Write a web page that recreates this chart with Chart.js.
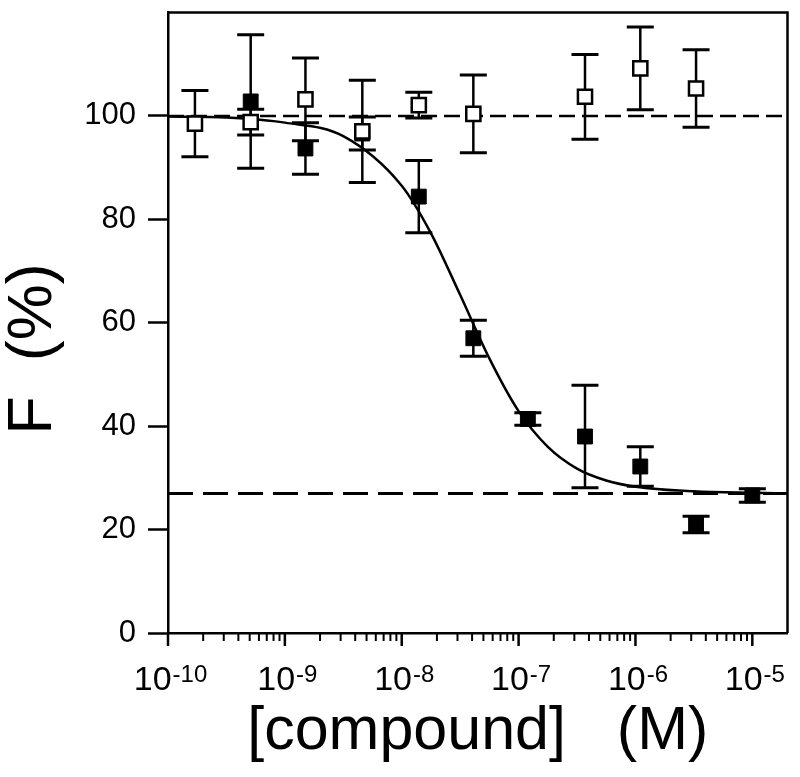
<!DOCTYPE html>
<html>
<head>
<meta charset="utf-8">
<script src="https://cdn.jsdelivr.net/npm/chart.js@4.4.1/dist/chart.umd.min.js"></script>
<style>
  html, body { margin: 0; padding: 0; background: #fff; }
  #wrap { width: 800px; height: 777px; position: relative; }
</style>
</head>
<body>
<div id="wrap"><canvas id="chart"></canvas></div>
<script>
// concentrations (M), 3-fold dilution series
const concentrations = [1.7e-10, 5.1e-10, 1.5e-9, 4.6e-9, 1.4e-8, 4.1e-8, 1.2e-7, 3.7e-7, 1.1e-6, 3.3e-6, 1.0e-5];

// filled squares
const filledValues = [null, 102.8, 93.7, 96.6, 84.4, 57.0, 41.4, 38.0, 32.2, 21.0, 26.6];
const filledErrors = [null, 12.9, 5.0, 3.2, 7.0, 3.5, 1.2, 9.9, 3.8, 1.6, 1.3];

// open squares
const openValues = [98.5, 98.8, 103.2, 97.0, 102.1, 100.4, null, 103.7, 109.2, 105.3, null];
const openErrors = [6.4, 2.5, 8.0, 9.9, 2.5, 7.5, null, 8.2, 8.0, 7.5, null];

// fitted curve
const curveX = [1e-10, 3.16e-10, 1e-9, 3.16e-9, 1e-8, 1.78e-8, 3.16e-8, 5.62e-8, 1e-7, 1.78e-7, 3.16e-7, 5.62e-7, 1e-6, 3.16e-6, 1e-5, 2e-5];
const curveY = [99.9, 99.7, 98.7, 96.1, 86.5, 77.3, 65.4, 53.1, 42.9, 36.0, 31.8, 29.5, 28.3, 27.4, 27.1, 27.0];

// dashed reference levels
const levelX = [1e-10, 2e-5];
const topLevel = 100;
const bottomLevel = 27;

const yTicks = [0, 20, 40, 60, 80, 100];
const xDecades = [-10, -9, -8, -7, -6, -5];
const minorSteps = [2, 3, 4, 5, 6, 7, 8, 9];

const FONT = '"Liberation Sans", Arial, Helvetica, sans-serif';

function toPoints(xs, ys) {
  return xs.map((x, i) => ({ x: x, y: ys[i] })).filter(p => p.y !== null);
}

// vertical error bars with caps, under the markers
const errorBars = {
  id: 'errorBars',
  beforeDatasetsDraw(chart) {
    const { ctx, scales: { x, y } } = chart;
    ctx.save();
    ctx.strokeStyle = '#000';
    [[filledValues, filledErrors], [openValues, openErrors]].forEach(([vals, errs]) => {
      vals.forEach((v, i) => {
        if (v === null) return;
        const px = x.getPixelForValue(concentrations[i]);
        const top = y.getPixelForValue(v + errs[i]);
        const bot = y.getPixelForValue(v - errs[i]);
        ctx.lineWidth = 2.5;
        ctx.beginPath();
        ctx.moveTo(px, top);
        ctx.lineTo(px, bot);
        ctx.stroke();
        ctx.lineWidth = 3;
        ctx.beginPath();
        ctx.moveTo(px - 13.5, top); ctx.lineTo(px + 13.5, top);
        ctx.moveTo(px - 13.5, bot); ctx.lineTo(px + 13.5, bot);
        ctx.stroke();
      });
    });
    ctx.restore();
  }
};

// box frame, log ticks and 10^n labels
const frameAndLogAxis = {
  id: 'frameAndLogAxis',
  afterDraw(chart) {
    const { ctx, chartArea: a, scales: { x } } = chart;
    ctx.save();
    ctx.strokeStyle = '#000';
    ctx.lineWidth = 2.5;
    ctx.beginPath();
    ctx.moveTo(a.left - 1, a.top);
    ctx.lineTo(a.right, a.top);
    ctx.lineTo(a.right, a.bottom);
    ctx.stroke();

    xDecades.forEach((e, k) => {
      const px = x.getPixelForValue(Math.pow(10, e));
      ctx.lineWidth = 2.5;
      ctx.beginPath();
      ctx.moveTo(px, a.bottom);
      ctx.lineTo(px, a.bottom + 13);
      ctx.stroke();
      if (k === xDecades.length - 1) return;
      ctx.lineWidth = 2;
      minorSteps.forEach(m => {
        const mx = x.getPixelForValue(m * Math.pow(10, e));
        ctx.beginPath();
        ctx.moveTo(mx, a.bottom);
        ctx.lineTo(mx, a.bottom + 8);
        ctx.stroke();
      });
    });

    ctx.fillStyle = '#000';
    ctx.textAlign = 'left';
    ctx.textBaseline = 'alphabetic';
    xDecades.forEach(e => {
      const px = x.getPixelForValue(Math.pow(10, e));
      const exp = String(e);
      ctx.font = '34px ' + FONT;
      const wb = ctx.measureText('10').width;
      ctx.font = '24px ' + FONT;
      const we = ctx.measureText(exp).width;
      const x0 = px - (wb + we) / 2 + 2;
      ctx.font = '34px ' + FONT;
      ctx.fillText('10', x0, a.bottom + 57);
      ctx.font = '24px ' + FONT;
      ctx.fillText(exp, x0 + wb + 1, a.bottom + 49);
    });
    ctx.restore();
  }
};

new Chart(document.getElementById('chart'), {
  type: 'scatter',
  data: {
    datasets: [
      {
        label: 'open',
        data: toPoints(concentrations, openValues),
        pointStyle: 'rect',
        pointRadius: 10,
        backgroundColor: '#fff',
        borderColor: '#000',
        borderWidth: 2.5,
        order: 0
      },
      {
        label: 'filled',
        data: toPoints(concentrations, filledValues),
        pointStyle: 'rect',
        pointRadius: 10.5,
        backgroundColor: '#000',
        borderColor: '#000',
        borderWidth: 1,
        order: 1
      },
      {
        label: 'fit',
        data: toPoints(curveX, curveY),
        showLine: true,
        pointRadius: 0,
        borderColor: '#000',
        borderWidth: 2.5,
        cubicInterpolationMode: 'monotone',
        order: 2
      },
      {
        label: 'top level',
        data: levelX.map(v => ({ x: v, y: topLevel })),
        showLine: true,
        pointRadius: 0,
        borderColor: '#000',
        borderWidth: 2.5,
        borderDash: [16, 7],
        order: 3
      },
      {
        label: 'bottom level',
        data: levelX.map(v => ({ x: v, y: bottomLevel })),
        showLine: true,
        pointRadius: 0,
        borderColor: '#000',
        borderWidth: 3,
        borderDash: [25, 10],
        order: 4
      }
    ]
  },
  options: {
    responsive: true,
    maintainAspectRatio: false,
    animation: false,
    events: [],
    layout: { padding: { top: 10, right: 11, left: 0, bottom: 0 } },
    plugins: {
      legend: { display: false },
      tooltip: { enabled: false }
    },
    scales: {
      x: {
        type: 'logarithmic',
        min: 1e-10,
        max: 2e-5,
        grid: { display: false },
        border: { display: true, color: '#000', width: 2.5 },
        ticks: { display: false },
        title: {
          display: true,
          text: '[compound]   (M)',
          color: '#000',
          font: { family: FONT, size: 61, lineHeight: 1 },
          padding: { top: 0, bottom: 14 }
        },
        afterFit(s) {
          s.height = 144;
          s.paddingLeft = 0;
          s.paddingRight = 0;
        }
      },
      y: {
        min: 0,
        max: 120,
        afterBuildTicks(s) {
          s.ticks = yTicks.map(v => ({ value: v }));
        },
        grid: {
          drawOnChartArea: false,
          drawTicks: true,
          tickLength: 20,
          tickColor: '#000',
          tickWidth: 2.5
        },
        border: { display: true, color: '#000', width: 2.5 },
        ticks: {
          color: '#000',
          font: { family: FONT, size: 31 },
          padding: 12
        },
        title: {
          display: true,
          text: 'F  (%)   ',
          color: '#000',
          font: { family: FONT, size: 63, lineHeight: 1 },
          padding: { top: 2, bottom: 0 }
        },
        afterFit(s) {
          s.width = 168;
          s.paddingTop = 0;
          s.paddingBottom = 0;
        }
      }
    }
  },
  plugins: [errorBars, frameAndLogAxis]
});
</script>
</body>
</html>
